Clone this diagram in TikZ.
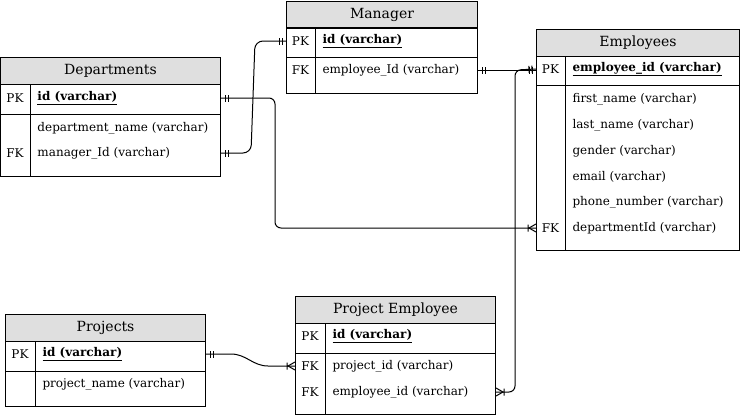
\documentclass[tikz,border=0pt]{standalone}
\usepackage{fontspec}
\setmainfont{DejaVu Serif}
\usetikzlibrary{decorations.markings}

\tikzset{
  tbltitle/.style={draw, fill=gray!25, minimum height=27pt, anchor=north west,
    inner sep=0pt, font=\fontsize{14}{16}\selectfont},
  keytext/.style={inner sep=0pt, font=\fontsize{12}{14}\selectfont},
  field/.style={anchor=west, inner sep=0pt, font=\fontsize{12}{14}\selectfont},
  % crow's foot ends
  onestart/.style={postaction={decorate, decoration={markings, mark=at position 0 with
    {\draw[line width=1pt] (4pt,-3.5pt) -- (4pt,3.5pt) (7pt,-3.5pt) -- (7pt,3.5pt);}}}},
  oneend/.style={postaction={decorate, decoration={markings, mark=at position 1 with
    {\draw[line width=1pt] (-4pt,-3.5pt) -- (-4pt,3.5pt) (-7pt,-3.5pt) -- (-7pt,3.5pt);}}}},
  manystart/.style={postaction={decorate, decoration={markings, mark=at position 0 with
    {\draw[line width=1pt] (8pt,-3.5pt) -- (8pt,3.5pt) (7pt,0pt) -- (0pt,-4pt) (7pt,0pt) -- (0pt,4pt);}}}},
  manyend/.style={postaction={decorate, decoration={markings, mark=at position 1 with
    {\draw[line width=1pt] (-8pt,-3.5pt) -- (-8pt,3.5pt) (-7pt,0pt) -- (0pt,-4pt) (-7pt,0pt) -- (0pt,4pt);}}}}
}

\begin{document}
\begin{tikzpicture}[x=1pt, y=-1pt, line width=1pt]
  \useasboundingbox (0,0) rectangle (740,415);

  % Departments
  \node[tbltitle, minimum width=220pt] (dept) at (0,57) {Departments};
  \draw (0,84) rectangle (220,114) (0,114) rectangle (220,176) (30,84) -- (30,176);
  \node[keytext] (dept-pk) at (15,98) {PK};
  \node[field] (dept-id) at (37,98) {\underline{\textbf{id (varchar)}}};
  \node[field] (dept-name) at (37,128) {department\_name (varchar)};
  \node[keytext] (dept-fk) at (15,153) {FK};
  \node[field] (dept-mgr) at (37,153) {manager\_Id (varchar)};

  % Manager
  \node[tbltitle, minimum width=191pt] (mgr) at (286,1) {Manager};
  \draw (286,27) rectangle (477,57) (286,57) rectangle (477,93) (315,27) -- (315,93);
  \node[keytext] (mgr-pk) at (300.5,41) {PK};
  \node[field] (mgr-id) at (322,41) {\underline{\textbf{id (varchar)}}};
  \node[keytext] (mgr-fk) at (300.5,70) {FK};
  \node[field] (mgr-emp) at (322,70) {employee\_Id (varchar)};

  % Employees
  \node[tbltitle, minimum width=203pt] (emp) at (536,29) {Employees};
  \draw (536,56) rectangle (739,85) (536,85) rectangle (739,250) (565,56) -- (565,250);
  \node[keytext] (emp-pk) at (550.5,69) {PK};
  \node[field] (emp-id) at (572,69) {\underline{\textbf{employee\_id (varchar)}}};
  \node[field] (emp-first) at (572,99) {first\_name (varchar)};
  \node[field] (emp-last) at (572,125) {last\_name (varchar)};
  \node[field] (emp-gender) at (572,151) {gender (varchar)};
  \node[field] (emp-email) at (572,177) {email (varchar)};
  \node[field] (emp-phone) at (572,202) {phone\_number (varchar)};
  \node[keytext] (emp-fk) at (550.5,228) {FK};
  \node[field] (emp-dept) at (572,228) {departmentId (varchar)};

  % Projects
  \node[tbltitle, minimum width=200pt] (proj) at (5,314) {Projects};
  \draw (5,341) rectangle (205,371) (5,371) rectangle (205,406) (35,341) -- (35,406);
  \node[keytext] (proj-pk) at (20,354) {PK};
  \node[field] (proj-id) at (42,354) {\underline{\textbf{id (varchar)}}};
  \node[field] (proj-name) at (42,384) {project\_name (varchar)};

  % Project Employee
  \node[tbltitle, minimum width=200pt] (pe) at (295,296) {Project Employee};
  \draw (295,323) rectangle (495,353) (295,353) rectangle (495,414) (325,323) -- (325,414);
  \node[keytext] (pe-pk) at (310,336) {PK};
  \node[field] (pe-id) at (332,336) {\underline{\textbf{id (varchar)}}};
  \node[keytext] (pe-fk1) at (310,366) {FK};
  \node[field] (pe-proj) at (332,366) {project\_id (varchar)};
  \node[keytext] (pe-fk2) at (310,392) {FK};
  \node[field] (pe-emp) at (332,392) {employee\_id (varchar)};

  % relations
  \draw[onestart, oneend, rounded corners=8pt] (dept-mgr -| dept.east) -- (251,153) -- (255,41) -- (mgr-id -| mgr.west);
  \draw[onestart, manyend, rounded corners=6pt] (dept-id -| dept.east) -| (275,228) -- (emp-dept -| emp.west);
  \draw[onestart, oneend] (mgr-emp -| mgr.east) -- (mgr-emp -| emp.west);
  \draw[onestart, manyend] (proj-id -| proj.east) -- ++(25,0) to[out=0,in=180] (268,366) -- (pe-proj -| pe.west);
  \draw[manystart, oneend, rounded corners=6pt] (pe-emp -| pe.east) -| (515,70) -- (emp-id -| emp.west);
\end{tikzpicture}
\end{document}
